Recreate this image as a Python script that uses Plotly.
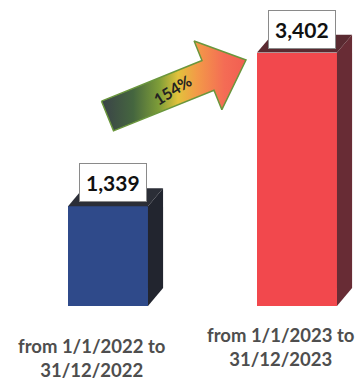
import numpy as np
import plotly.graph_objects as go

# --- data -------------------------------------------------------------
periods = ["from 1/1/2022 to<br>31/12/2022", "from 1/1/2023 to<br>31/12/2023"]
counts = [1339, 3402]
value_labels = ["1,339", "3,402"]

# --- styling ----------------------------------------------------------
front_colors = ["#2f4a8a", "#f2484d"]
side_colors = ["#22252f", "#682c35"]
top_colors = ["#2b2e37", "#5a2a31"]

BAR_W = 0.423      # front face width (category units)
DX = 0.08          # box depth, horizontal (category units)
DY = 240           # box depth, vertical (value units)
LABEL_DROP = [27, 16]   # px from baseline to top of each period label
FONT = "Lato"

fig = go.Figure()

xs = list(range(len(counts)))

# side and top faces of each box
for i, v in enumerate(counts):
    left, right = i - BAR_W / 2, i + BAR_W / 2
    fig.add_trace(go.Scatter(
        x=[right, right + DX, right + DX, right, right],
        y=[0, DY, v + DY, v, 0],
        fill="toself", fillcolor=side_colors[i], mode="lines",
        line=dict(width=0, color=side_colors[i]), hoverinfo="skip", showlegend=False))
    fig.add_trace(go.Scatter(
        x=[left, left + DX, right + DX, right, left],
        y=[v, v + DY, v + DY, v, v],
        fill="toself", fillcolor=top_colors[i], mode="lines",
        line=dict(width=0, color=top_colors[i]), hoverinfo="skip", showlegend=False))

# front faces
fig.add_trace(go.Bar(
    x=xs, y=counts, width=BAR_W,
    marker=dict(color=front_colors, line_width=0),
    hoverinfo="skip", showlegend=False))

# value boxes
for i, v in enumerate(counts):
    fig.add_annotation(
        x=i, y=v, xref="x", yref="y", text=f"<b>{value_labels[i]}</b>",
        showarrow=False, yanchor="bottom", xanchor="center",
        xshift=5, yshift=4,
        font=dict(family=FONT, size=21, color="#111111"),
        bgcolor="white", bordercolor="#8a8a8a", borderwidth=1, borderpad=6)

# period labels under the boxes
for i, p in enumerate(periods):
    fig.add_annotation(
        x=i, y=0, xref="x", yref="y", text=f"<b>{p}</b>",
        showarrow=False, yanchor="top", xanchor="center",
        xshift=-16, yshift=-LABEL_DROP[i],
        font=dict(family=FONT, size=18.5, color="#4e4e4e"))

# growth arrow (overlay axes in screen pixels)
growth = (counts[1] - counts[0]) / counts[0] * 100
tail = np.array([107.5, 116.0])
tip = np.array([246.0, 60.0])
u = (tip - tail) / np.linalg.norm(tip - tail)
n = np.array([-u[1], u[0]])
if n[1] < 0:
    n = -n
body_hw, head_hw, head_len = 16, 37, 41
base = tip - head_len * u
pts = [tail - body_hw * n, base - body_hw * n, base - head_hw * n, tip,
       base + head_hw * n, base + body_hw * n, tail + body_hw * n, tail - body_hw * n]
pts = np.array(pts)
fig.add_trace(go.Scatter(
    x=pts[:, 0], y=pts[:, 1], xaxis="x2", yaxis="y2",
    mode="lines", fill="toself",
    line=dict(color="#6a963c", width=1.5),
    fillgradient=dict(type="horizontal", colorscale=[
        [0.0, "#3a4248"], [0.22, "#45663f"], [0.4, "#7f9e38"],
        [0.53, "#e2c23c"], [0.66, "#f39a48"], [0.85, "#f46c55"], [1.0, "#f25e52"]]),
    hoverinfo="skip", showlegend=False))

mid = tail + 0.47 * (tip - tail)
fig.add_annotation(
    x=mid[0], y=mid[1], xref="x2", yref="y2", text=f"<b>{growth:.0f}%</b>",
    showarrow=False, textangle=-32,
    font=dict(family=FONT, size=16, color="#222222"))

fig.update_layout(
    width=360, height=385,
    margin=dict(l=0, r=0, t=0, b=0),
    paper_bgcolor="white", plot_bgcolor="white",
    xaxis=dict(range=[-108 / 189, 252 / 189], visible=False, fixedrange=True),
    yaxis=dict(range=[-79 / 0.0745, 306 / 0.0745], visible=False, fixedrange=True),
    xaxis2=dict(range=[0, 360], overlaying="x", visible=False, fixedrange=True),
    yaxis2=dict(range=[385, 0], overlaying="y", visible=False, fixedrange=True),
    bargap=0,
)

fig.write_html("out.html", config={"displayModeBar": False})
